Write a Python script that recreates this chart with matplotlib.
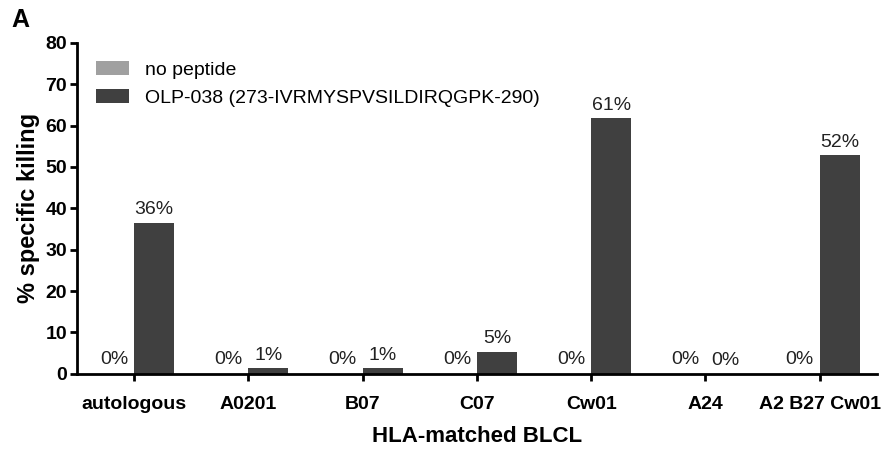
import matplotlib.pyplot as plt
import numpy as np

plt.rcParams['font.family'] = ['Liberation Sans', 'DejaVu Sans']

# data
categories = ['autologous', 'A0201', 'B07', 'C07', 'Cw01', 'A24', 'A2 B27 Cw01']
no_peptide = [0, 0, 0, 0, 0, 0, 0]
olp038 = [36.5, 1.3, 1.3, 5.3, 61.8, 0, 52.8]
no_peptide_labels = ['0%'] * 7
olp038_labels = ['36%', '1%', '1%', '5%', '61%', '0%', '52%']

fig = plt.figure(figsize=(8.84, 4.51), dpi=100)
ax = fig.add_axes([0.087, 0.171, 0.905, 0.734])

x = np.arange(len(categories))
w = 0.35
b1 = ax.bar(x - w / 2, no_peptide, w, color='#a0a0a0', label='no peptide')
b2 = ax.bar(x + w / 2, olp038, w, color='#404040',
            label='OLP-038 (273-IVRMYSPVSILDIRQGPK-290)')

for rect, lab in zip(b1, no_peptide_labels):
    ax.text(rect.get_x() + rect.get_width() / 2, rect.get_height() + 1.3, lab,
            ha='center', va='bottom', fontsize=14, color='#222222')
for rect, lab in zip(b2, olp038_labels):
    ax.text(rect.get_x() + rect.get_width() / 2, rect.get_height() + 1.1, lab,
            ha='center', va='bottom', fontsize=14, color='#222222')

ax.set_xlim(-0.5, 6.5)
ax.set_ylim(0, 80)
ax.set_yticks(np.arange(0, 81, 10))
ax.set_xticks(x)
ax.set_xticklabels(categories, fontweight='bold', fontsize=14)
for t in ax.get_yticklabels():
    t.set_fontweight('bold')
    t.set_fontsize(14)
ax.tick_params(axis='both', direction='out', length=5, width=2, pad=2)
ax.tick_params(axis='x', pad=11)

ax.spines['top'].set_visible(False)
ax.spines['right'].set_visible(False)
ax.spines['left'].set_linewidth(2)
ax.spines['bottom'].set_linewidth(2)

ax.set_xlabel('HLA-matched BLCL', fontweight='bold', fontsize=16, labelpad=9)
ax.set_ylabel('% specific killing', fontweight='bold', fontsize=17, labelpad=4)

ax.legend(loc='upper left', frameon=False, fontsize=14, handlelength=1.7,
          handleheight=0.75, borderaxespad=0.6, labelspacing=0.55,
          handletextpad=0.8, bbox_to_anchor=(0.0, 1.005))

fig.text(0.013, 0.955, 'A', fontweight='bold', fontsize=18, va='center')

plt.savefig('out.png', dpi=100)
